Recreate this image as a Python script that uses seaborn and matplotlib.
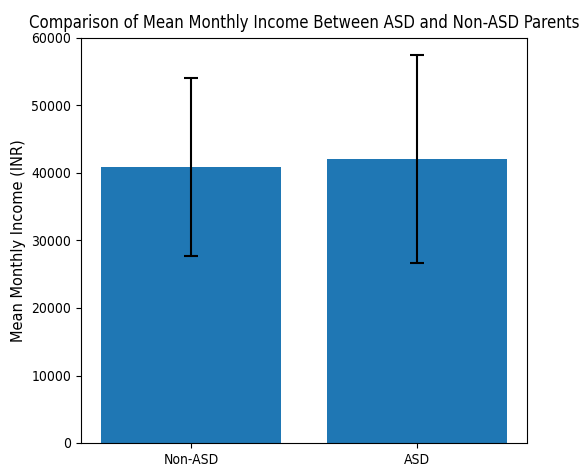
import matplotlib
matplotlib.use("Agg")
import matplotlib.pyplot as plt
import seaborn as sns
import pandas as pd

groups = ["Non-ASD", "ASD"]
means = [40890, 42050]
sds = [13140, 15430]

df = pd.DataFrame({"group": groups, "mean": means})
fig = plt.figure(figsize=(5.85, 4.68), dpi=100)
ax = fig.add_axes([81/585, 1-443/468, 446/585, 405/468])
sns.barplot(data=df, x="group", y="mean", color="#1f77b4", saturation=1, errorbar=None, width=0.8, ax=ax)
ax.errorbar(range(len(groups)), means, yerr=sds, fmt="none", ecolor="black", capsize=5, elinewidth=1.5, capthick=1.5)
ax.set_ylim(0, 60000)
ax.set_xlim(-0.489, 1.489)
ax.set_xlabel("")
ax.set_ylabel("Mean Monthly Income (INR)", fontsize=10.5, labelpad=4)
ax.set_title("Comparison of Mean Monthly Income Between ASD and Non-ASD Parents", fontsize=12, fontstretch="condensed", pad=7)
for lab in ax.get_xticklabels() + ax.get_yticklabels():
    lab.set_fontstretch("condensed")
    lab.set_fontsize(10)
fig.savefig("out.png", dpi=100)
